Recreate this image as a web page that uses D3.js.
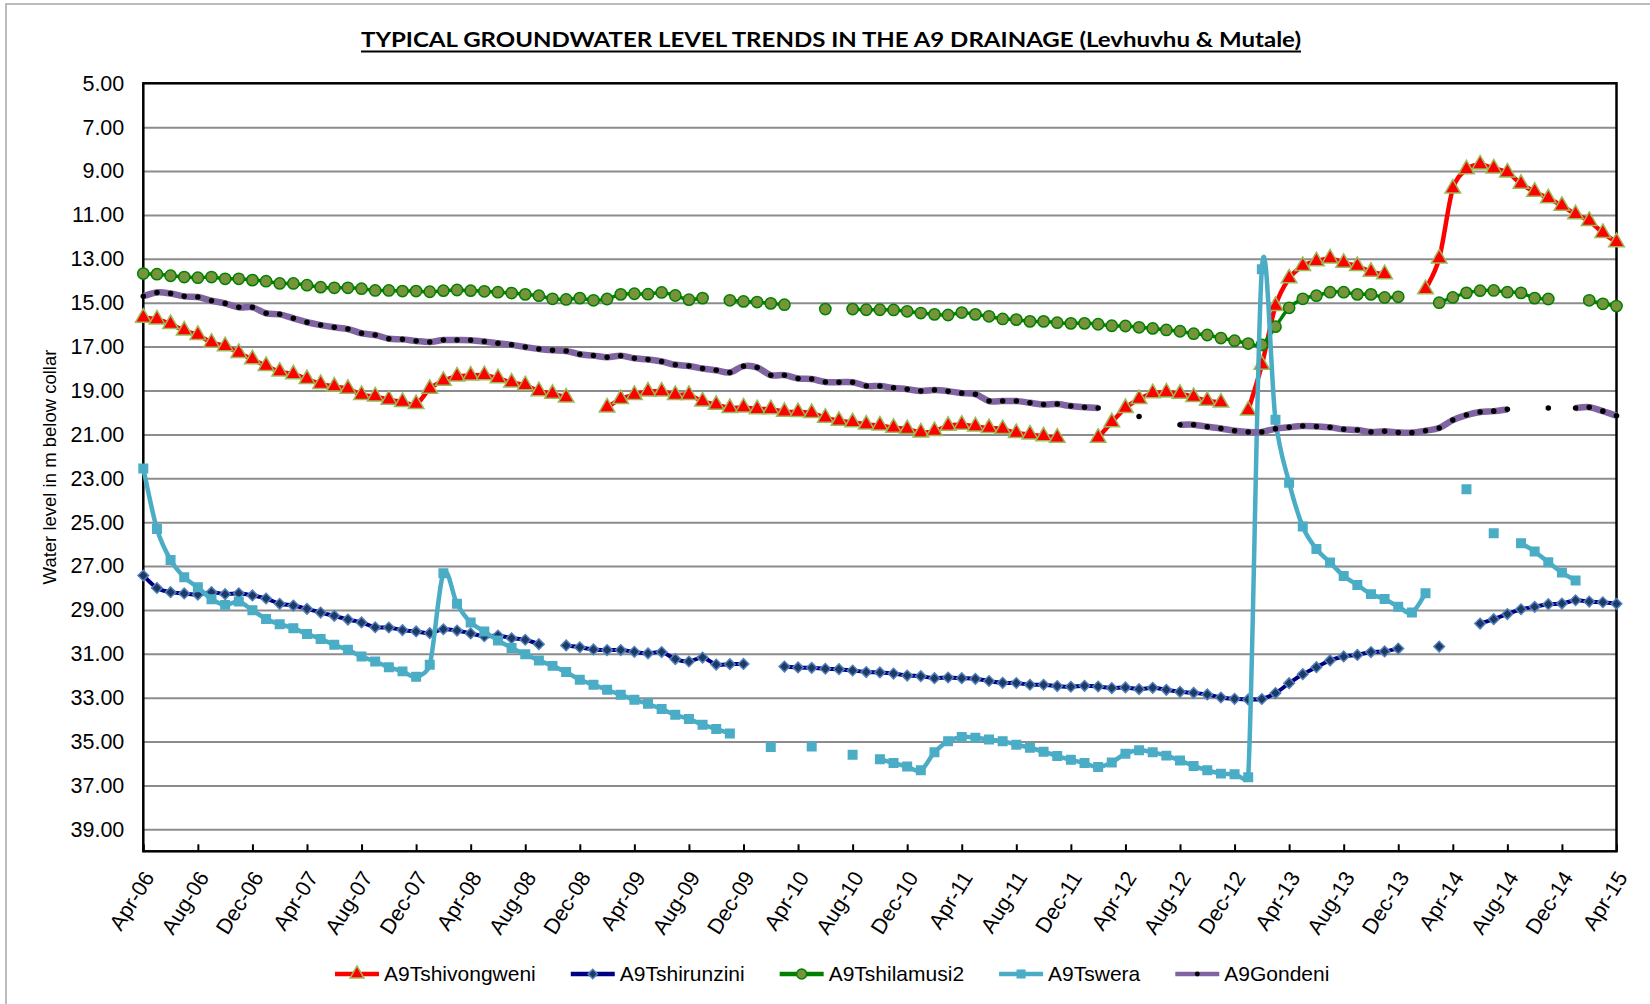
<!DOCTYPE html>
<html>
<head>
<meta charset="utf-8">
<script src="https://cdn.jsdelivr.net/npm/d3@7"></script>
<style>
  body { margin: 0; background: #fff; }
  svg { display: block; }
</style>
</head>
<body>
<svg id="chart" width="1650" height="1004"></svg>
<script>
// month index 0 = Apr-06 ... 108 = Apr-15 (monthly readings, null = no reading)
const tickLabels = ["Apr-06","Aug-06","Dec-06","Apr-07","Aug-07","Dec-07","Apr-08","Aug-08","Dec-08",
  "Apr-09","Aug-09","Dec-09","Apr-10","Aug-10","Dec-10","Apr-11","Aug-11","Dec-11","Apr-12","Aug-12",
  "Dec-12","Apr-13","Aug-13","Dec-13","Apr-14","Aug-14","Dec-14","Apr-15"];
const yTicks = [5,7,9,11,13,15,17,19,21,23,25,27,29,31,33,35,37,39];

const tshivongweni = [15.68,15.76,15.97,16.27,16.47,16.82,16.98,17.29,17.58,17.88,18.14,18.26,18.48,18.70,18.82,18.92,
  19.20,19.27,19.42,19.52,19.62,18.92,18.56,18.36,18.32,18.30,18.44,18.64,18.76,19.03,19.15,19.32,
  null,null,
  19.77,19.39,19.20,19.05,19.05,19.20,19.20,19.50,19.65,19.80,19.77,19.85,19.85,19.97,19.98,20.03,20.24,20.38,
  20.45,20.55,20.59,20.70,20.76,20.91,20.85,20.61,20.56,20.64,20.71,20.76,20.94,21.00,21.09,21.15,
  null,null,
  21.15,20.45,19.80,19.39,19.12,19.09,19.15,19.30,19.47,19.55,
  null,
  19.91,17.83,15.15,13.89,13.33,13.11,12.98,13.18,13.33,13.59,13.70,
  null,null,
  14.39,12.98,9.80,8.92,8.70,8.88,9.06,9.58,9.94,10.24,10.58,10.97,11.27,11.82,12.24];

const tshirunzini = [27.43,28.00,28.19,28.25,28.30,28.19,28.28,28.24,28.34,28.48,28.72,28.80,28.95,29.12,29.27,29.44,
  29.57,29.79,29.80,29.92,29.98,30.06,29.88,29.94,30.07,30.20,30.17,30.29,30.36,30.56,
  null,
  30.62,30.70,30.80,30.83,30.83,30.91,30.98,30.92,31.24,31.35,31.17,31.49,31.47,31.46,
  null,null,
  31.58,31.62,31.64,31.68,31.70,31.76,31.83,31.85,31.90,31.99,32.02,32.11,32.08,32.11,32.14,32.24,32.32,32.33,
  32.41,32.41,32.47,32.50,32.46,32.49,32.56,32.53,32.61,32.55,32.64,32.73,32.78,32.85,32.99,33.05,33.08,33.06,
  32.79,32.34,31.93,31.61,31.30,31.12,31.05,30.92,30.89,30.76,
  null,null,
  30.67,
  null,null,
  29.62,29.42,29.19,28.97,28.86,28.74,28.71,28.56,28.62,28.65,28.72];

const tshilamusi2 = [13.67,13.70,13.77,13.83,13.86,13.83,13.91,13.91,13.97,14.02,14.12,14.12,14.20,14.29,14.32,14.32,
  14.36,14.44,14.44,14.47,14.47,14.50,14.45,14.42,14.45,14.48,14.52,14.56,14.62,14.68,14.82,14.85,14.79,
  14.89,14.83,14.62,14.59,14.61,14.53,14.67,14.86,14.79,
  null,
  14.89,14.94,14.97,15.03,15.09,
  null,null,
  15.29,
  null,
  15.29,15.32,15.32,15.33,15.39,15.47,15.53,15.56,15.45,15.53,15.62,15.74,15.77,15.85,15.85,15.91,
  15.94,15.94,15.98,16.05,16.06,16.12,16.17,16.24,16.30,16.41,16.47,16.61,16.73,16.86,16.92,
  16.09,15.23,14.82,14.68,14.52,14.52,14.62,14.62,14.76,14.73,
  null,null,
  15.00,14.76,14.55,14.45,14.44,14.52,14.55,14.79,14.83,
  null,null,
  14.89,15.05,15.15];

const tswera = [22.55,25.31,26.72,27.51,27.97,28.51,28.77,28.62,29.01,29.41,29.65,29.83,30.10,30.32,30.59,30.82,
  31.12,31.35,31.61,31.80,32.05,31.50,27.33,28.72,29.57,29.98,30.39,30.73,31.02,31.30,31.55,31.83,32.18,
  32.41,32.64,32.87,33.09,33.28,33.52,33.78,33.97,34.23,34.43,34.63,
  null,null,
  35.25,
  null,null,
  35.22,
  null,null,
  35.60,
  null,
  35.80,35.98,36.14,36.31,35.49,34.98,34.79,34.82,34.90,34.98,35.14,35.28,35.46,35.66,
  35.83,35.98,36.16,35.95,35.55,35.40,35.49,35.64,35.86,36.11,36.31,36.46,36.49,36.63,
  13.47,20.33,23.20,25.20,26.22,26.84,27.45,27.86,28.28,28.50,28.85,29.12,28.24,
  null,null,
  23.50,
  null,
  25.51,
  null,
  25.96,26.34,26.83,27.30,27.66,
  null,null,null];

const gondeni = [14.70,14.53,14.58,14.71,14.74,14.91,15.03,15.21,15.21,15.48,15.53,15.71,15.89,16.02,16.12,16.20,
  16.39,16.47,16.64,16.67,16.74,16.79,16.70,16.70,16.71,16.77,16.85,16.92,17.02,17.11,17.17,17.20,17.35,
  17.41,17.48,17.42,17.53,17.59,17.68,17.83,17.88,18.00,18.08,18.18,17.89,17.95,18.30,18.30,18.45,18.48,18.61,
  18.62,18.62,18.79,18.80,18.88,18.94,19.02,18.98,19.03,19.12,19.17,19.48,19.48,19.48,19.56,19.64,19.62,
  19.71,19.76,19.80,
  null,null,
  20.18,
  null,null,
  20.56,20.56,20.65,20.73,20.83,20.89,20.89,20.74,20.67,20.62,20.64,20.68,20.77,20.80,20.89,20.86,20.91,20.92,
  20.83,20.71,20.35,20.12,19.98,19.94,19.86,
  null,null,
  19.80,
  null,
  19.80,19.76,19.94,20.15];

const series = [
  { name: "A9Tshivongweni", values: tshivongweni, line: "#ff0000", width: 4.5,
    shape: d3.symbolTriangle, size: 105, fill: "#ff0000", stroke: "#9bbb59", rotate: 0 },
  { name: "A9Tshirunzini", values: tshirunzini, line: "#000080", width: 4,
    shape: d3.symbolSquare, size: 56, fill: "#1f3864", stroke: "#4f81bd", rotate: 45 },
  { name: "A9Tshilamusi2", values: tshilamusi2, line: "#008000", width: 3.5,
    shape: d3.symbolCircle, size: 100, fill: "#77933c", stroke: "#008000", rotate: 0 },
  { name: "A9Tswera", values: tswera, line: "#4bacc6", width: 4.5,
    shape: d3.symbolSquare, size: 72, fill: "#4bacc6", stroke: "#4bacc6", rotate: 0 },
  { name: "A9Gondeni", values: gondeni, line: "#8064a2", width: 6.5,
    shape: d3.symbolCircle, size: 24, fill: "#000000", stroke: "none", rotate: 0 }
];

// Excel-like smoothing: Catmull-Rom tangents, handles capped at half the segment length
function ExcelSmooth(context) { this._context = context; }
ExcelSmooth.prototype = {
  areaStart() {}, areaEnd() {},
  lineStart() { this._pts = []; },
  point(px, py) { this._pts.push([+px, +py]); },
  lineEnd() {
    const p = this._pts, n = p.length, c = this._context;
    if (!n) return;
    c.moveTo(p[0][0], p[0][1]);
    const cap = (v, len) => {
      const l = Math.hypot(v[0], v[1]);
      return l > len ? [v[0] * len / l, v[1] * len / l] : v;
    };
    for (let i = 0; i < n - 1; i++) {
      const p0 = p[Math.max(i - 1, 0)], p1 = p[i], p2 = p[i + 1], p3 = p[Math.min(i + 2, n - 1)];
      const seg = Math.hypot(p2[0] - p1[0], p2[1] - p1[1]) * 0.5;
      const t1 = cap([(p2[0] - p0[0]) / 6, (p2[1] - p0[1]) / 6], seg);
      const t2 = cap([(p3[0] - p1[0]) / 6, (p3[1] - p1[1]) / 6], seg);
      c.bezierCurveTo(p1[0] + t1[0], p1[1] + t1[1], p2[0] - t2[0], p2[1] - t2[1], p2[0], p2[1]);
    }
  }
};
const curveExcel = ctx => new ExcelSmooth(ctx);

const svg = d3.select("#chart");
const plotLeft = 143.3, plotRight = 1616.5, plotTop = 83.3, plotBottom = 851.3;

const x = d3.scaleLinear().domain([0, 108]).range([plotLeft, plotRight]);
const y = d3.scaleLinear().domain([5, 40]).range([plotTop, plotBottom]);

// outer chart frame
svg.append("rect")
  .attr("x", 6).attr("y", 4).attr("width", 1700).attr("height", 1100)
  .attr("fill", "#fff").attr("stroke", "#a6a6a6").attr("stroke-width", 1.5);

// title
svg.append("text")
  .attr("x", 831).attr("y", 47)
  .attr("text-anchor", "middle")
  .style("font-family", "Lato, 'Liberation Sans', sans-serif")
  .style("font-weight", 700)
  .style("font-size", "21px")
  .attr("textLength", 940).attr("lengthAdjust", "spacingAndGlyphs")
  .text("TYPICAL GROUNDWATER LEVEL TRENDS IN THE A9 DRAINAGE (Levhuvhu & Mutale)");
svg.append("line")
  .attr("x1", 831 - 470).attr("x2", 831 + 470)
  .attr("y1", 51.5).attr("y2", 51.5)
  .attr("stroke", "#000").attr("stroke-width", 1.8);

// gridlines
svg.append("g")
  .attr("transform", `translate(${plotLeft},0)`)
  .call(d3.axisLeft(y).tickValues(yTicks.slice(1)).tickSize(-(plotRight - plotLeft)).tickFormat(""))
  .call(g => g.select(".domain").remove())
  .call(g => g.selectAll("line").attr("stroke", "#8c8c8c").attr("stroke-width", 2));

// y axis labels
svg.append("g")
  .attr("transform", `translate(${plotLeft},0)`)
  .call(d3.axisLeft(y).tickValues(yTicks).tickSize(0).tickPadding(19).tickFormat(d3.format(".2f")))
  .call(g => g.select(".domain").remove())
  .call(g => g.selectAll("text")
    .style("font-family", "'Liberation Sans', Arial, sans-serif")
    .style("font-size", "21.5px").attr("fill", "#000"));

svg.append("text")
  .attr("transform", "translate(49,467) rotate(-90)")
  .attr("text-anchor", "middle").attr("dominant-baseline", "central")
  .style("font-family", "'Liberation Sans', Arial, sans-serif")
  .style("font-size", "18.5px")
  .text("Water level in m below collar");

// x axis (ticks point into the plot)
svg.append("g")
  .attr("transform", `translate(0,${plotBottom})`)
  .call(d3.axisBottom(x).tickValues(d3.range(0, 109, 4)).tickSizeInner(-7).tickSizeOuter(0)
    .tickFormat((d, i) => tickLabels[i]))
  .call(g => g.select(".domain").remove())
  .call(g => g.selectAll("line").attr("stroke", "#000").attr("stroke-width", 2))
  .call(g => g.selectAll("text")
    .attr("text-anchor", "end")
    .attr("dy", "0.35em")
    .attr("transform", "translate(5,22) rotate(-58)")
    .attr("y", 0)
    .style("font-family", "'Liberation Sans', Arial, sans-serif")
    .style("font-size", "21.5px").attr("fill", "#000"));

// plot frame
svg.append("rect")
  .attr("x", plotLeft).attr("y", plotTop)
  .attr("width", plotRight - plotLeft).attr("height", plotBottom - plotTop)
  .attr("fill", "none").attr("stroke", "#000").attr("stroke-width", 2.5);

// series
const line = d3.line()
  .defined(d => d.v !== null)
  .x(d => x(d.m))
  .y(d => y(d.v))
  .curve(curveExcel);

series.forEach(s => {
  const pts = s.values.map((v, m) => ({ m, v }));
  const g = svg.append("g");
  g.append("path")
    .datum(pts)
    .attr("d", line)
    .attr("fill", "none")
    .attr("stroke", s.line)
    .attr("stroke-width", s.width)
    .attr("stroke-linejoin", "round");
  g.selectAll("path.mark")
    .data(pts.filter(d => d.v !== null))
    .enter().append("path")
    .attr("class", "mark")
    .attr("d", d3.symbol().type(s.shape).size(s.size))
    .attr("transform", d => `translate(${x(d.m)},${y(d.v)}) rotate(${s.rotate})`)
    .attr("fill", s.fill)
    .attr("stroke", s.stroke)
    .attr("stroke-width", 1.5);
});

// legend
const legend = svg.append("g").attr("transform", "translate(0,974)");
let lx = 335;
series.forEach(s => {
  const item = legend.append("g").attr("transform", `translate(${lx},0)`);
  item.append("line")
    .attr("x1", 0).attr("x2", 44).attr("y1", 0).attr("y2", 0)
    .attr("stroke", s.line).attr("stroke-width", 4.5);
  item.append("path")
    .attr("d", d3.symbol().type(s.shape).size(s.size * 0.8))
    .attr("transform", `translate(22,0) rotate(${s.rotate})`)
    .attr("fill", s.fill).attr("stroke", s.stroke).attr("stroke-width", 1.5);
  const t = item.append("text")
    .attr("x", 49).attr("y", 0).attr("dy", "0.35em")
    .style("font-family", "'Liberation Sans', Arial, sans-serif")
    .style("font-size", "21px")
    .text(s.name);
  lx += 49 + t.node().getComputedTextLength() + 35;
});
</script>
</body>
</html>
